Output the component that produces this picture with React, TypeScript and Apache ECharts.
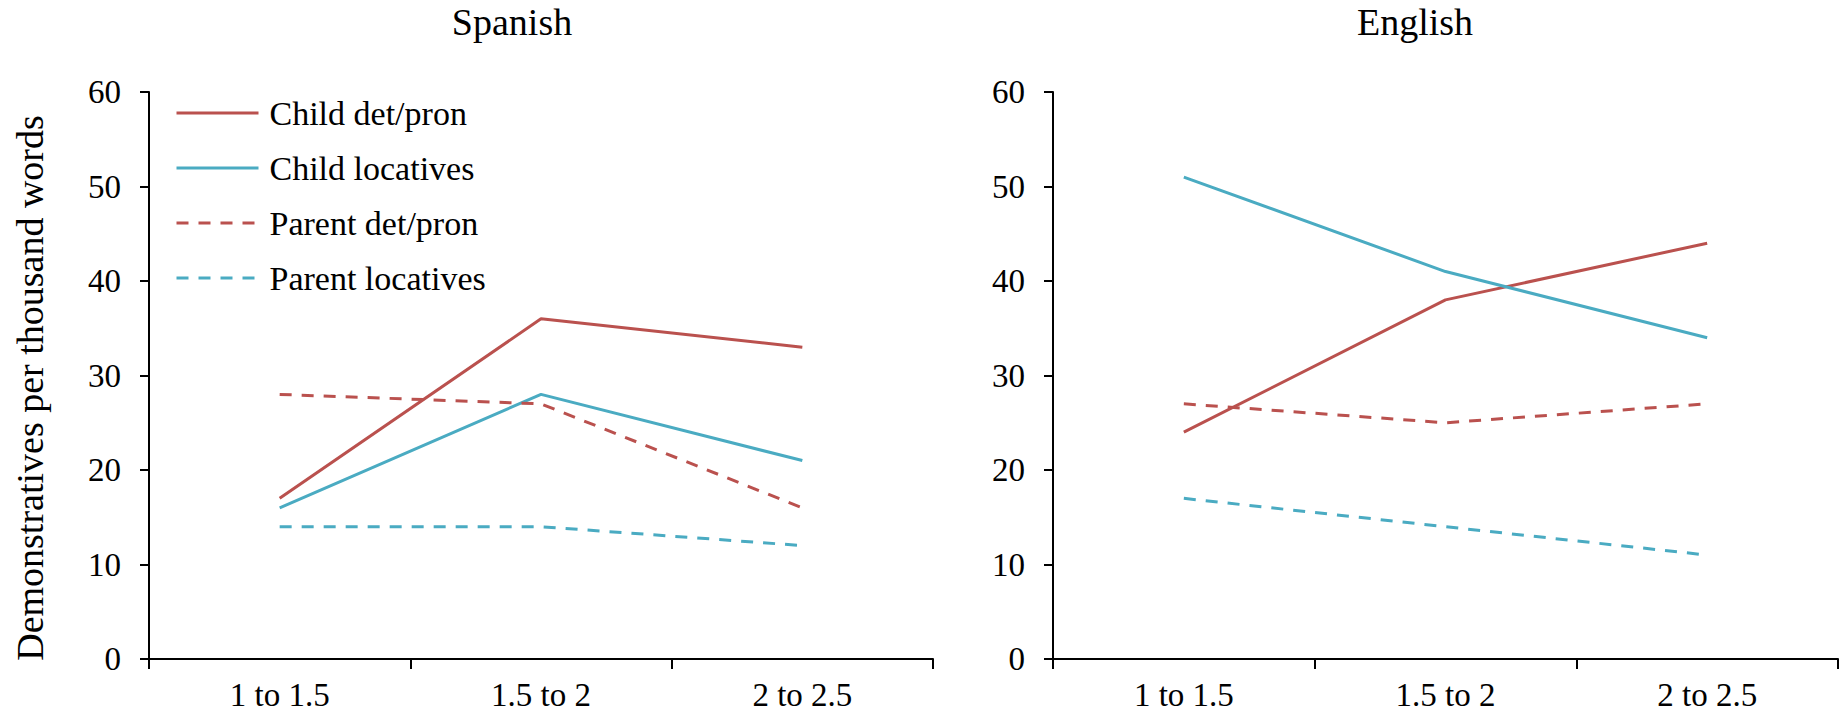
import React, { useEffect, useRef } from "react";
import * as echarts from "echarts";

const categories = ["1 to 1.5", "1.5 to 2", "2 to 2.5"];
const seriesNames = ["Child det/pron", "Child locatives", "Parent det/pron", "Parent locatives"];
const panelTitles = ["Spanish", "English"];

const spanishChildDetPron = [17, 36, 33];
const spanishChildLocatives = [16, 28, 21];
const spanishParentDetPron = [28, 27, 16];
const spanishParentLocatives = [14, 14, 12];

const englishChildDetPron = [24, 38, 44];
const englishChildLocatives = [51, 41, 34];
const englishParentDetPron = [27, 25, 27];
const englishParentLocatives = [17, 14, 11];

const yTicks = { min: 0, max: 60, interval: 10 };
const yAxisTitle = "Demonstratives per thousand words";

const FONT = "'Liberation Serif', 'Times New Roman', serif";
const RED = "#BA514E";
const TEAL = "#4AABC2";

export default function App() {
  const ref = useRef<HTMLDivElement>(null);

  useEffect(() => {
    if (!ref.current) return;
    const chart = echarts.init(ref.current, undefined, { renderer: "svg" });

    const panels = [
      [spanishChildDetPron, spanishChildLocatives, spanishParentDetPron, spanishParentLocatives],
      [englishChildDetPron, englishChildLocatives, englishParentDetPron, englishParentLocatives],
    ];
    const colors = [RED, TEAL, RED, TEAL];
    const dashed = [false, false, true, true];

    const grids = [
      { left: 149, top: 92, width: 784, height: 567 },
      { left: 1053, top: 92, width: 785, height: 567 },
    ];

    const axisLineStyle = { color: "#000", width: 2 };

    const xAxes = grids.map((_, i) => ({
      type: "category",
      gridIndex: i,
      data: categories,
      boundaryGap: true,
      axisLine: { show: true, lineStyle: axisLineStyle },
      axisTick: { show: true, length: 10, lineStyle: axisLineStyle, alignWithLabel: false },
      axisLabel: { fontFamily: FONT, fontSize: 33, color: "#000", margin: 19 },
      splitLine: { show: false },
    }));

    const yAxes = grids.map((_, i) => ({
      type: "value",
      gridIndex: i,
      min: yTicks.min,
      max: yTicks.max,
      interval: yTicks.interval,
      axisLine: { show: true, lineStyle: axisLineStyle },
      axisTick: { show: true, length: 9, lineStyle: axisLineStyle },
      axisLabel: { fontFamily: FONT, fontSize: 33, color: "#000", margin: 28 },
      splitLine: { show: false },
    }));

    const series: any[] = [];
    panels.forEach((vals, gi) => {
      vals.forEach((data, si) => {
        series.push({
          type: "line",
          name: seriesNames[si],
          xAxisIndex: gi,
          yAxisIndex: gi,
          data,
          symbol: "none",
          color: colors[si],
          lineStyle: {
            color: colors[si],
            width: 3,
            type: dashed[si] ? [12, 10] : "solid",
          },
        });
      });
    });

    chart.setOption({
      animation: false,
      backgroundColor: "#fff",
      grid: grids,
      xAxis: xAxes,
      yAxis: yAxes,
      series,
      legend: {
        data: seriesNames,
        orient: "vertical",
        left: 170,
        top: 91,
        itemWidth: 82,
        itemHeight: 34,
        itemGap: 21,
        itemStyle: { opacity: 0 },
        lineStyle: { width: 3 },
        textStyle: { fontFamily: FONT, fontSize: 34, color: "#000", padding: [0, 0, 0, 6] },
        selectedMode: false,
      },
      graphic: [
        {
          type: "text",
          x: 512,
          y: 22,
          style: {
            text: panelTitles[0],
            textAlign: "center",
            textVerticalAlign: "middle",
            fontFamily: FONT,
            fontSize: 38,
            fill: "#000",
          },
        },
        {
          type: "text",
          x: 1415,
          y: 22,
          style: {
            text: panelTitles[1],
            textAlign: "center",
            textVerticalAlign: "middle",
            fontFamily: FONT,
            fontSize: 38,
            fill: "#000",
          },
        },
        {
          type: "text",
          x: 30,
          y: 388,
          rotation: Math.PI / 2,
          style: {
            text: yAxisTitle,
            textAlign: "center",
            textVerticalAlign: "middle",
            fontFamily: FONT,
            fontSize: 38,
            fill: "#000",
          },
        },
      ],
    });

    return () => chart.dispose();
  }, []);

  return (
    <div
      ref={ref}
      style={{ position: "absolute", left: 0, top: 0, width: 1843, height: 714 }}
    />
  );
}
